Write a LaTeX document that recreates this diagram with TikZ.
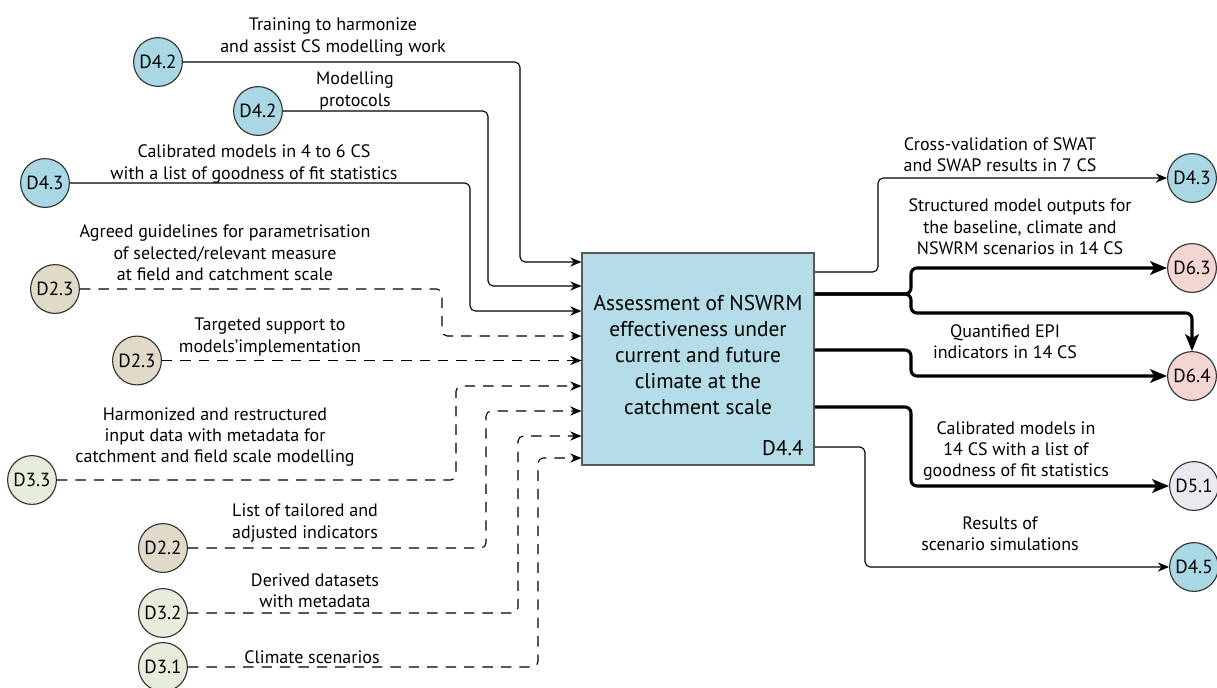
\documentclass[tikz,border=0pt]{standalone}
\usepackage{fontspec}
\setmainfont{PT Sans}
\usetikzlibrary{arrows.meta}

\definecolor{taskfill}{HTML}{B4DDE8}
\definecolor{wpblue}{HTML}{A9D7E3}
\definecolor{wpbeige}{HTML}{DFDBC8}
\definecolor{wpgreen}{HTML}{E6EEDB}
\definecolor{wppink}{HTML}{F3D6D1}
\definecolor{wplilac}{HTML}{ECE8F0}

\tikzset{
  deliv/.style={circle, draw=black!80, line width=0.8pt, minimum size=1.22cm,
    inner sep=0pt, font=\fontsize{13.5}{15}\selectfont},
  lbl/.style={align=center, inner sep=0pt, font=\fontsize{12.8}{15.2}\selectfont},
  solidin/.style={line width=0.8pt, rounded corners=0.13cm,
    -{Stealth[length=0.28cm,width=0.23cm]}},
  dashin/.style={solidin, dash pattern=on 0.26cm off 0.2cm},
  thinout/.style={solidin},
  thickout/.style={line width=2.2pt, rounded corners=0.15cm,
    -{Stealth[length=0.42cm,width=0.34cm,inset=0.1cm]}}
}

\begin{document}
\begin{tikzpicture}[x=0.025cm,y=-0.025cm]

  \path[use as bounding box, fill=white] (0,0) rectangle (1217,687);

  % task box
  \node[draw=black!65, line width=0.8pt, fill=taskfill, minimum width=5.8cm,
    minimum height=5.3cm] (task) at (698,359) {};
  \node[align=center, font=\fontsize{15.2}{18.4}\selectfont] (tasktxt) at (698,355)
    {Assessment of NSWRM\\effectiveness under\\current and future\\climate at the\\catchment scale};
  \node[anchor=south east, inner sep=0pt, font=\fontsize{15}{16}\selectfont]
    (taskid) at ([xshift=-0.27cm,yshift=0.25cm]task.south east) {D4.4};

  % inputs
  \node[deliv, fill=wpblue] (d42a) at (158,62) {D4.2};
    \node[lbl] (l42a) at (333,37) {Training to harmonize\\and assist CS modelling work};
  \node[deliv, fill=wpblue] (d42b) at (258,111) {D4.2};
    \node[lbl] (l42b) at (355,91) {Modelling\\protocols};
  \node[deliv, fill=wpblue] (d43a) at (45,183) {D4.3};
    \node[lbl] (l43a) at (254,164) {Calibrated models in 4 to 6 CS\\with a list of goodness of fit statistics};
  \node[deliv, fill=wpbeige] (d23a) at (55,289) {D2.3};
    \node[lbl] (l23a) at (225,253) {Agreed guidelines for parametrisation\\of selected/relevant measure\\at field and catchment scale};
  \node[deliv, fill=wpbeige] (d23b) at (137,360.5) {D2.3};
    \node[lbl] (l23b) at (270,337) {Targeted support to\\models'implementation};
  \node[deliv, fill=wpgreen] (d33) at (32,480) {D3.3};
    \node[lbl] (l33) at (215,437) {Harmonized and restructured\\input data with metadata for\\catchment and field scale modelling};
  \node[deliv, fill=wpbeige] (d22) at (163,548) {D2.2};
    \node[lbl] (l22) at (305,523) {List of tailored and\\adjusted indicators};
  \node[deliv, fill=wpgreen] (d32) at (163,613) {D3.2};
    \node[lbl] (l32) at (315,591) {Derived datasets\\with metadata};
  \node[deliv, fill=wpgreen] (d31) at (163,667) {D3.1};
    \node[lbl] (l31) at (312,657) {Climate scenarios};

  \draw[solidin] (d42a) -- (520,62) -- (520,262) -- (task.west |- 0,262);
  \draw[solidin] (d42b) -- (488,111) -- (488,286) -- (task.west |- 0,286);
  \draw[solidin] (d43a) -- (470,183) -- (470,311) -- (task.west |- 0,311);
  \draw[dashin] (d23a) -- (442,289) -- (442,336) -- (task.west |- 0,336);
  \draw[dashin] (d23b) -- (task.west |- 0,360.5);
  \draw[dashin] (d33) -- (456,480) -- (456,386) -- (task.west |- 0,386);
  \draw[dashin] (d22) -- (486,548) -- (486,411) -- (task.west |- 0,411);
  \draw[dashin] (d32) -- (518,613) -- (518,436) -- (task.west |- 0,436);
  \draw[dashin] (d31) -- (538,667) -- (538,458) -- (task.west |- 0,458);

  % outputs
  \node[deliv, fill=wpblue] (d43b) at (1192,178) {D4.3};
    \node[lbl] (l43b) at (1000,155) {Cross-validation of SWAT\\and SWAP results in 7 CS};
  \node[deliv, fill=wppink] (d63) at (1192,268) {D6.3};
    \node[lbl] (l63) at (1020,227) {Structured model outputs for\\the baseline, climate and\\NSWRM scenarios in 14 CS};
  \node[deliv, fill=wppink] (d64) at (1192,376) {D6.4};
    \node[lbl] (l64) at (1005,342) {Quantified EPI\\indicators in 14 CS};
  \node[deliv, fill=wplilac] (d51) at (1194,486) {D5.1};
    \node[lbl] (l51) at (1016,451) {Calibrated models in\\14 CS with a list of\\goodness of fit statistics};
  \node[deliv, fill=wpblue] (d45) at (1194,567) {D4.5};
    \node[lbl] (l45) at (1000,534) {Results of\\scenario simulations};

  \draw[thinout] (task.east |- 0,272) -- (878,272) -- (878,178) -- (d43b);
  \draw[thickout] (task.east |- 0,294) -- (911,294) -- (911,268) -- (d63);
  \draw[thickout] (task.east |- 0,294) -- (911,294) -- (911,313) -- (d64.north |- 0,313) -- (d64);
  \draw[thickout] (task.east |- 0,350) -- (911,350) -- (911,376) -- (d64);
  \draw[thickout] (task.east |- 0,407) -- (911,407) -- (911,486) -- (d51);
  \draw[thinout] (task.east |- 0,447) -- (865,447) -- (865,567) -- (d45);

\end{tikzpicture}
\end{document}
